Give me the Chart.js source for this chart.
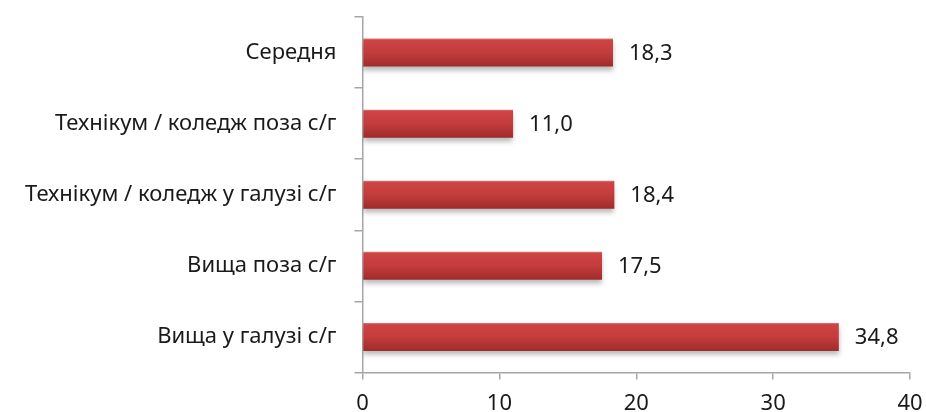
<!DOCTYPE html>
<html>
<head>
<meta charset="utf-8">
<script src="https://cdn.jsdelivr.net/npm/chart.js@4"></script>
<style>
  html, body { margin: 0; padding: 0; background: #fff; }
  #wrap { width: 926px; height: 412px; }
</style>
</head>
<body>
<div id="wrap"><canvas id="chart" width="926" height="412"></canvas></div>
<script>
const categories = ["Середня", "Технікум / коледж поза с/г", "Технікум / коледж у галузі с/г", "Вища поза с/г", "Вища у галузі с/г"];
const values = [18.3, 11.0, 18.4, 17.5, 34.8];
const xTicks = [0, 10, 20, 30, 40];

const FONT = "'Noto Sans', sans-serif";

// shadow under the bars
const barShadow = {
  id: "barShadow",
  beforeDatasetsDraw(chart) {
    const ctx = chart.ctx;
    ctx.save();
    ctx.shadowColor = "rgba(0,0,0,0.28)";
    ctx.shadowBlur = 5;
    ctx.shadowOffsetY = 4;
  },
  afterDatasetsDraw(chart) {
    chart.ctx.restore();
  }
};

// value labels right of bars
const valueLabels = {
  id: "valueLabels",
  afterDatasetsDraw(chart) {
    const ctx = chart.ctx;
    const meta = chart.getDatasetMeta(0);
    ctx.save();
    ctx.font = "22px " + FONT;
    ctx.fillStyle = "#1a1a1a";
    ctx.textAlign = "left";
    ctx.textBaseline = "middle";
    meta.data.forEach((bar, i) => {
      ctx.fillText(values[i].toFixed(1).replace(".", ","), bar.x + 16, bar.y + 1);
    });
    ctx.restore();
  }
};

function barFill(context) {
  const chart = context.chart;
  const y = chart.scales.y;
  if (!y || !chart.chartArea) return "#c23b3b";
  const c = y.getPixelForValue(context.dataIndex);
  const h = 14;
  const g = chart.ctx.createLinearGradient(0, c - h, 0, c + h);
  g.addColorStop(0, "#e07a7a");
  g.addColorStop(0.06, "#cf4343");
  g.addColorStop(0.5, "#c43c3c");
  g.addColorStop(1, "#9f2b2b");
  return g;
}

new Chart(document.getElementById("chart"), {
  type: "bar",
  data: {
    labels: categories,
    datasets: [{
      data: values,
      backgroundColor: barFill,
      borderWidth: 0,
      barPercentage: 0.394,
      categoryPercentage: 1
    }]
  },
  plugins: [barShadow, valueLabels],
  options: {
    indexAxis: "y",
    responsive: false,
    animation: false,
    layout: { padding: { top: 17, right: 16, left: 0, bottom: 0 } },
    plugins: {
      legend: { display: false },
      tooltip: { enabled: false }
    },
    scales: {
      x: {
        min: 0,
        max: 40,
        afterBuildTicks(scale) { scale.ticks = xTicks.map(v => ({ value: v })); },
        afterFit(scale) {
          scale.height = 39.5;
          scale.paddingLeft = 0;
          scale.paddingRight = 0;
        },
        border: { color: "#a6a6a6", width: 1.5 },
        grid: { drawOnChartArea: false, tickLength: 7, color: "#a6a6a6", lineWidth: 1.5 },
        ticks: { color: "#1a1a1a", font: { family: FONT, size: 22 }, padding: 11, maxRotation: 0 }
      },
      y: {
        afterFit(scale) {
          scale.width = 362.5;
          scale.paddingTop = 0;
          scale.paddingBottom = 0;
        },
        border: { color: "#a6a6a6", width: 1.5 },
        grid: { drawOnChartArea: false, offset: true, tickLength: 8, color: "#a6a6a6", lineWidth: 1.5 },
        ticks: { color: "#1a1a1a", font: { family: FONT, size: 22 }, padding: 18 }
      }
    }
  }
});
</script>
</body>
</html>
